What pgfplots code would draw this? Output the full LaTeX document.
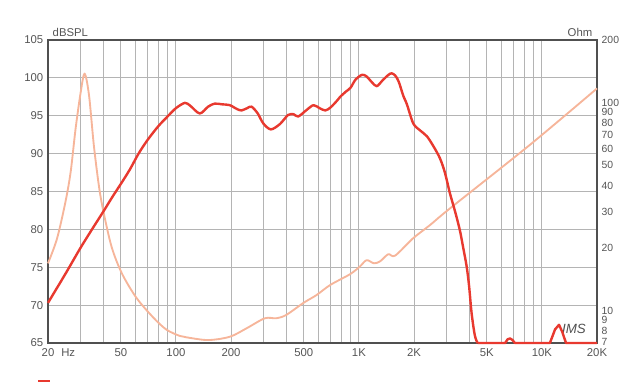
\documentclass[border=0pt]{standalone}
\usepackage{pgfplots}
\pgfplotsset{compat=1.18}
\usepackage{fontspec}
\setmainfont{Liberation Sans}
\definecolor{spl}{HTML}{E8392F}
\definecolor{imp}{HTML}{F6B59A}
\definecolor{framec}{HTML}{505050}
\definecolor{gridc}{HTML}{B4B4B4}
\definecolor{lbl}{HTML}{555555}

% SPL, passband part
\pgfplotstableread{
f db
20 70.3
25 74.2
30 77.5
35 80.1
40 82.3
45 84.3
50 86.0
56 87.9
62.5 90.0
70 91.8
80 93.6
90 94.9
100 96.0
112 96.7
120 96.3
135 95.3
150 96.2
163 96.6
180 96.5
197 96.4
215 95.9
228 95.7
245 96.0
259 96.2
280 95.3
300 94.0
330 93.2
370 93.9
410 95.1
440 95.2
466 94.9
520 95.8
565 96.4
610 96.0
655 95.7
700 96.1
760 97.0
790 97.5
850 98.2
900 98.7
960 99.8
1040 100.4
1100 100.2
1180 99.4
1252 98.9
1350 99.7
1450 100.4
1510 100.6
1580 100.3
1650 99.5
1750 97.6
1830 96.5
1980 94.0
2150 93.1
2350 92.3
2550 91.0
2770 89.4
2950 87.5
3140 84.8
3350 82.4
3560 79.9
3720 77.5
3880 75.1
4000 72.5
4130 68.9
4300 66.0
4450 65.0
}\spltable

% SPL, floor part (clipped at 65 dB)
\pgfplotstableread{
f db
4450 65.0
6300 65.0
6500 65.5
6700 65.6
6900 65.4
7120 65.0
11060 65.0
11800 66.8
12400 67.4
12900 66.5
13540 65.0
20000 65.0
}\splfloor

\pgfplotstableread{
f ohm
20 16.9
22.4 22.2
24.9 33.3
26.6 46.5
28.3 75
30.2 112.7
31.7 138
33.5 108.7
35.6 62.4
37.9 40.1
40 30.5
44.5 20.3
50.7 15.1
61 11.5
75.9 9.2
89 8.1
105 7.57
114.6 7.45
150 7.23
197 7.5
243 8.23
306 9.2
354 9.2
401 9.55
497 10.9
587 11.9
697 13.3
896 15.0
1011 16.3
1102 17.5
1209 16.9
1308 17.3
1447 18.7
1577 18.4
1978 22.3
2446 25.8
3140 31.0
8600 62.7
20000 117
}\imptable

\begin{document}
\begin{tikzpicture}
\path[use as bounding box] (-36pt,-33.75pt) rectangle (444pt,257.25pt);
% frame, grid, SPL axis labels
\begin{axis}[scale only axis, width=411.75pt, height=227.25pt,
  xmode=log, xmin=20, xmax=20000, at={(0,0)}, anchor=south west, clip=false,
  tick style={draw=none},
  ticklabel style={font=\fontsize{8.5}{10}\selectfont, text=lbl},
  /pgf/number format/assume math mode=true,
  ymin=65, ymax=105, ytick={65,70,...,105},
  xtick={20,50,100,200,500,1000,2000,5000,10000,20000},
  xticklabels={20\rlap{\hspace{5.25pt}Hz},50,100,200,500,1K,2K,5K,10K,20K},
  xticklabel style={yshift=-0.5pt},
  minor xtick={30,40,60,70,80,90,300,400,600,700,800,900,3000,4000,6000,7000,8000,9000},
  grid=both,
  major grid style={gridc, line width=0.75pt},
  minor grid style={gridc, line width=0.75pt},
  axis line style={framec, line width=1.5pt},
]
\addplot[draw=none, forget plot] coordinates {(20,65)};
\node[anchor=base west, font=\fontsize{8.5}{10}\selectfont, text=lbl] at (rel axis cs:0,1) [yshift=2.5pt] {dBSPL};
\node[anchor=base east, font=\fontsize{8.5}{10}\selectfont, text=lbl] at (rel axis cs:1,1) [yshift=2.5pt] {Ohm};
\node[font=\fontsize{10}{12}\selectfont\itshape, text=framec] at (rel axis cs:0.958,0.046) {IMS};
\draw[spl, line width=1.8pt] (rel axis cs:-0.0182,-0.1254) -- (rel axis cs:0.0036,-0.1254);
\end{axis}
% impedance axis (right)
\begin{axis}[scale only axis, width=411.75pt, height=227.25pt,
  xmode=log, xmin=20, xmax=20000, at={(0,0)}, anchor=south west, clip=false,
  tick style={draw=none},
  ticklabel style={font=\fontsize{7.8}{9}\selectfont, text=lbl},
  /pgf/number format/assume math mode=true,
  ymode=log, ymin=7, ymax=200,
  axis x line=none, axis y line*=right,
  y axis line style={draw=none},
  ytick={7,8,9,10,20,30,40,50,60,70,80,90,100,200},
  yticklabels={\raisebox{1.2pt}{7},8,9,10,20,30,40,50,60,70,80,90,100,200},
  yticklabel style={inner ysep=0pt},
  minor ytick={},
]
\addplot[imp, line width=1.4pt, line join=round, smooth, tension=0.5] table[x=f, y=ohm] {\imptable};
\end{axis}
% SPL curve
\begin{axis}[scale only axis, width=411.75pt, height=227.25pt,
  xmode=log, xmin=20, xmax=20000, at={(0,0)}, anchor=south west, clip=false,
  hide axis, ymin=65, ymax=105]
\addplot[spl, line width=1.8pt, line join=round, smooth, tension=0.5] table[x=f, y=db] {\spltable};
\addplot[spl, line width=1.8pt, line join=round] table[x=f, y=db] {\splfloor};
\end{axis}
\end{tikzpicture}
\end{document}
